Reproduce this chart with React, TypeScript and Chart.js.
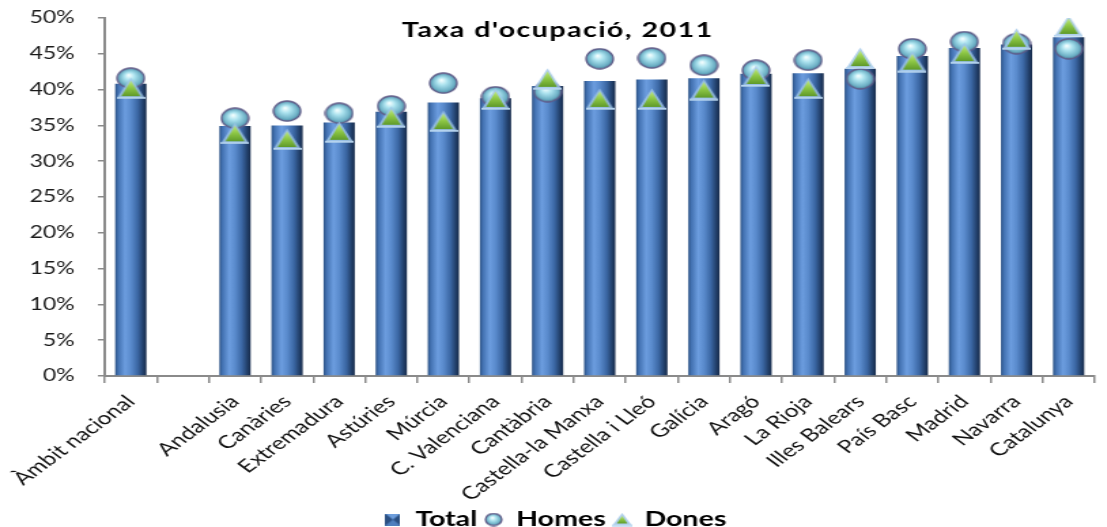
import React, { useEffect, useRef } from 'react';
import { Chart, registerables } from 'chart.js';

Chart.register(...registerables);

const categories = [
  'Àmbit nacional', '', 'Andalusia', 'Canàries', 'Extremadura', 'Astúries', 'Múrcia',
  'C. Valenciana', 'Cantàbria', 'Castella-la Manxa', 'Castella i Lleó', 'Galícia', 'Aragó',
  'La Rioja', 'Illes Balears', 'País Basc', 'Madrid', 'Navarra', 'Catalunya',
];
const totalValues = [40.8, null, 34.9, 35.0, 35.4, 36.9, 38.2, 38.8, 40.5, 41.2, 41.4, 41.6, 42.2, 42.3, 42.9, 44.7, 45.8, 46.3, 47.3];
const homesValues = [41.6, null, 36.0, 37.0, 36.7, 37.7, 40.9, 39.0, 39.7, 44.3, 44.4, 43.4, 42.7, 44.1, 41.5, 45.7, 46.7, 46.4, 45.7];
const donesValues = [40.2, null, 33.9, 33.1, 34.1, 36.2, 35.6, 38.7, 41.5, 38.7, 38.7, 40.0, 41.9, 40.2, 44.4, 43.9, 45.1, 47.1, 48.9];
const seriesNames = ['Total', 'Homes', 'Dones'];
const yMax = 50;
const yStep = 5;
const titleText = "Taxa d'ocupació, 2011";

// The reference is horizontally stretched; draw on a narrower canvas and stretch it with CSS.
const SX = 1.36;
const W0 = 817;
const H = 540;
const PLOT_TOP = 18;
const PLOT_BOTTOM = 376;

function makeSphere(w: number, h: number) {
  const c = document.createElement('canvas');
  c.width = w; c.height = h;
  const g = c.getContext('2d')!;
  const cx = w / 2, cy = h / 2;
  const rx = w / 2 - 1, ry = h / 2 - 1;
  const grad = g.createRadialGradient(cx - rx * 0.15, cy - ry * 0.3, 0.5, cx, cy, Math.max(rx, ry));
  grad.addColorStop(0, '#f2feff');
  grad.addColorStop(0.35, '#ace3ef');
  grad.addColorStop(0.8, '#6fb2c7');
  grad.addColorStop(1, '#4b87a0');
  g.beginPath();
  g.ellipse(cx, cy, rx, ry, 0, 0, Math.PI * 2);
  g.fillStyle = grad;
  g.fill();
  g.lineWidth = 1.3;
  g.strokeStyle = '#5f5c88';
  g.stroke();
  return c;
}

function makeTriangle(w: number, h: number) {
  const c = document.createElement('canvas');
  c.width = w; c.height = h;
  const g = c.getContext('2d')!;
  g.beginPath();
  g.moveTo(w / 2, 0.5);
  g.lineTo(w - 0.5, h - 1.5);
  g.lineTo(0.5, h - 1.5);
  g.closePath();
  g.fillStyle = 'rgba(160,198,232,0.85)';
  g.fill();
  const grad = g.createLinearGradient(0, 3, 0, h - 3);
  grad.addColorStop(0, '#c4ec7c');
  grad.addColorStop(0.5, '#8cc644');
  grad.addColorStop(1, '#5f9a2a');
  g.beginPath();
  g.moveTo(w / 2, 3.5);
  g.lineTo(w - 3.5, h - 3);
  g.lineTo(3.5, h - 3);
  g.closePath();
  g.fillStyle = grad;
  g.fill();
  g.beginPath();
  g.moveTo(0, h - 1.2);
  g.lineTo(w, h - 1.2);
  g.strokeStyle = '#b8d6f0';
  g.lineWidth = 1.8;
  g.stroke();
  return c;
}

function makeBarIcon(w: number, h: number) {
  const c = document.createElement('canvas');
  c.width = w; c.height = h;
  const g = c.getContext('2d')!;
  g.fillStyle = '#4f7fbe';
  g.fillRect(0, 0, w, h);
  g.fillStyle = '#2a4f82';
  g.beginPath(); g.moveTo(0, 0); g.lineTo(w / 2, h / 2); g.lineTo(0, h); g.closePath(); g.fill();
  g.beginPath(); g.moveTo(w, 0); g.lineTo(w / 2, h / 2); g.lineTo(w, h); g.closePath(); g.fill();
  g.fillStyle = '#6d9ddb';
  g.beginPath(); g.moveTo(0, 0); g.lineTo(w / 2, h / 2); g.lineTo(w, 0); g.closePath(); g.fill();
  return c;
}

const titlePlugin = {
  id: 'customTitle',
  afterDraw(chart: any) {
    const ctx = chart.ctx;
    ctx.save();
    ctx.font = 'bold 21px Lato';
    ctx.fillStyle = '#000';
    ctx.textBaseline = 'alphabetic';
    ctx.textAlign = 'left';
    const target = 228;
    const w0 = ctx.measureText(titleText).width;
    const n = titleText.length;
    const ls = Math.max(0, (target - w0) / (n - 1));
    (ctx as any).letterSpacing = ls + 'px';
    const w1 = ctx.measureText(titleText).width - ls;
    ctx.fillText(titleText, 409.6 - w1 / 2, 37);
    ctx.restore();
  },
};

export default function App() {
  const ref = useRef<HTMLCanvasElement | null>(null);

  useEffect(() => {
    document.body.style.margin = '0';
    document.body.style.overflow = 'hidden';
    const canvas = ref.current;
    if (!canvas) return;

    const sphere = makeSphere(22, 22);
    const tri = makeTriangle(21, 22);
    const legendBar = makeBarIcon(11, 12);
    const legendSphere = makeSphere(14, 14);
    const legendTri = makeTriangle(15, 14);
    const legendIcons = [legendBar, legendSphere, legendTri];

    const barFill = (c: any) => {
      const chart = c.chart;
      const xs = chart.scales && chart.scales.x;
      if (!xs || c.dataIndex === undefined || !xs.width) return '#4a7ebf';
      const cx = xs.getPixelForValue(c.dataIndex);
      const bw = (xs.width / categories.length) * 0.6;
      const g = chart.ctx.createLinearGradient(cx - bw / 2, 0, cx + bw / 2, 0);
      g.addColorStop(0, '#2c5285');
      g.addColorStop(0.1, '#4372b2');
      g.addColorStop(0.32, '#6c9ddf');
      g.addColorStop(0.5, '#5a8bcd');
      g.addColorStop(0.72, '#3b67a4');
      g.addColorStop(0.9, '#213e68');
      g.addColorStop(1, '#172b4b');
      return g;
    };

    const chart = new Chart(canvas, {
      type: 'bar',
      data: {
        labels: categories,
        datasets: [
          {
            type: 'bar',
            label: seriesNames[0],
            data: totalValues,
            backgroundColor: barFill,
            borderWidth: 0,
            barPercentage: 0.6,
            categoryPercentage: 1,
            order: 3,
          },
          {
            type: 'line',
            label: seriesNames[1],
            data: homesValues,
            showLine: false,
            pointStyle: sphere,
            pointRadius: 11,
            pointHoverRadius: 11,
            order: 2,
          },
          {
            type: 'line',
            label: seriesNames[2],
            data: donesValues,
            showLine: false,
            pointStyle: tri,
            pointRadius: 11,
            pointHoverRadius: 11,
            order: 1,
          },
        ] as any,
      },
      options: {
        animation: false,
        responsive: false,
        maintainAspectRatio: false,
        layout: { padding: { top: PLOT_TOP, right: 0, left: 0, bottom: 0 } },
        plugins: {
          tooltip: { enabled: false },
          title: { display: false },
          legend: {
            position: 'bottom',
            labels: {
              usePointStyle: true,
              boxWidth: 12,
              boxHeight: 12,
              padding: 6,
              color: '#000',
              font: { family: 'Lato', size: 21, weight: 'bold' },
              sort: (a: any, b: any) => a.datasetIndex - b.datasetIndex,
              generateLabels: (ch: any) => {
                const items = (Chart.defaults.plugins.legend.labels as any).generateLabels(ch);
                items.forEach((it: any) => { it.pointStyle = legendIcons[it.datasetIndex]; });
                return items;
              },
            },
          },
        },
        scales: {
          x: {
            offset: true,
            grid: {
              offset: true,
              drawOnChartArea: false,
              drawTicks: true,
              tickLength: 7,
              color: '#8a8a8a',
              lineWidth: 1.5,
            },
            border: { display: true, color: '#8a8a8a', width: 2 },
            ticks: {
              autoSkip: false,
              minRotation: 45,
              maxRotation: 45,
              padding: 8,
              color: '#111',
              font: { family: 'Lato', size: 18 },
            },
            afterFit: (scale: any) => {
              const lh = scale.chart.legend ? scale.chart.legend.height : 0;
              scale.height = H - PLOT_BOTTOM - lh;
              scale.paddingLeft = 0;
              scale.paddingRight = 0;
            },
          },
          y: {
            min: 0,
            max: yMax,
            grid: {
              drawOnChartArea: false,
              drawTicks: true,
              tickLength: 5,
              color: '#8a8a8a',
              lineWidth: 1.5,
            },
            border: { display: true, color: '#8a8a8a', width: 2 },
            ticks: {
              stepSize: yStep,
              padding: 17,
              color: '#1a1a1a',
              font: { family: 'Lato', size: 17 },
              callback: (v: any) => v + '%',
            },
            afterFit: (scale: any) => {
              scale.width = 77;
              scale.paddingTop = 0;
              scale.paddingBottom = 0;
            },
          },
        },
      },
      plugins: [titlePlugin],
    });

    return () => chart.destroy();
  }, []);

  return (
    <div style={{ width: Math.round(W0 * SX), height: H, overflow: 'hidden' }}>
      <canvas
        ref={ref}
        width={W0}
        height={H}
        style={{ width: Math.round(W0 * SX), height: H, display: 'block' }}
      />
    </div>
  );
}
